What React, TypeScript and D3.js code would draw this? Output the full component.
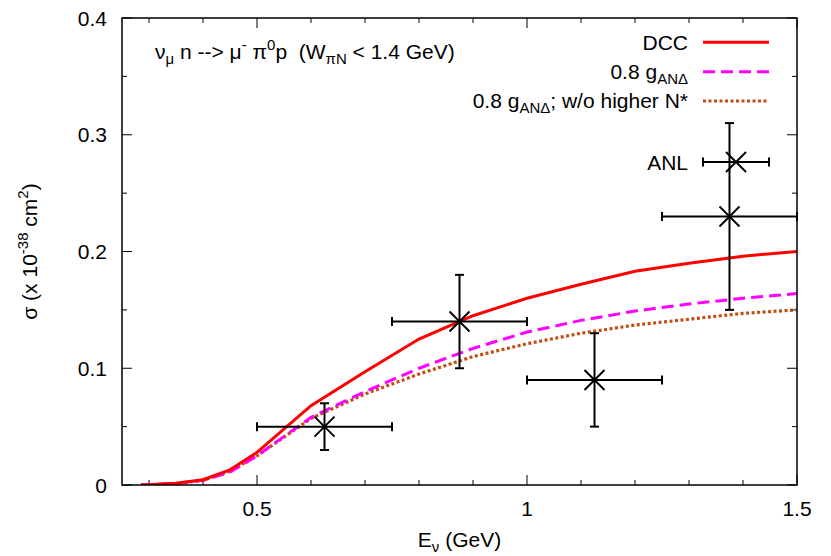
import React from "react";
import * as d3 from "d3";

const energies = [0.285, 0.3, 0.35, 0.4, 0.45, 0.5, 0.6, 0.7, 0.8, 0.9, 1.0, 1.1, 1.2, 1.3, 1.4, 1.5];
const dcc = [0, 0.0003, 0.0015, 0.0045, 0.013, 0.028, 0.068, 0.097, 0.125, 0.145, 0.16, 0.172, 0.183, 0.19, 0.196, 0.2];
const gAND08 = [0, 0.0003, 0.0013, 0.004, 0.011, 0.025, 0.058, 0.08, 0.1, 0.117, 0.131, 0.141, 0.149, 0.155, 0.16, 0.164];
const gAND08NoN = [0, 0.0003, 0.0013, 0.004, 0.012, 0.025, 0.057, 0.078, 0.095, 0.11, 0.121, 0.13, 0.137, 0.142, 0.147, 0.15];

const anlE = [0.625, 0.875, 1.125, 1.375];
const anlSigma = [0.05, 0.14, 0.09, 0.23];
const anlELow = [0.5, 0.75, 1.0, 1.25];
const anlEHigh = [0.75, 1.0, 1.25, 1.5];
const anlSigmaLow = [0.03, 0.1, 0.05, 0.15];
const anlSigmaHigh = [0.07, 0.18, 0.13, 0.31];

const xMajorTicks = [0.5, 1, 1.5];
const xTickLabels = ["0.5", "1", "1.5"];
const xMinorTicks = [0.3, 0.4, 0.6, 0.7, 0.8, 0.9, 1.1, 1.2, 1.3, 1.4];
const yMajorTicks = [0, 0.1, 0.2, 0.3, 0.4];
const yTickLabels = ["0", "0.1", "0.2", "0.3", "0.4"];
const yMinorTicks = [0.05, 0.15, 0.25, 0.35];

const W = 831;
const H = 556;
const L = 122, R = 797, T = 18, B = 485;
const FONT = "'Liberation Sans', Arial, Helvetica, sans-serif";
const FS = 21;
const SUB = 15;
const ORANGE = "#c24e12";

export default function App() {
  const x = d3.scaleLinear().domain([0.25, 1.5]).range([L, R]);
  const y = d3.scaleLinear().domain([0, 0.4]).range([B, T]);
  const line = (vals: number[]) =>
    d3.line<number>().x((_, i) => x(energies[i])).y((v) => y(v))(vals) || "";

  const cross = (cx: number, cy: number, s: number, key: string) => (
    <g key={key} stroke="#000" strokeWidth={2}>
      <line x1={cx - s} y1={cy - s} x2={cx + s} y2={cy + s} />
      <line x1={cx - s} y1={cy + s} x2={cx + s} y2={cy - s} />
    </g>
  );
  const cap = 4.5;

  const legendX1 = 703, legendX2 = 769, legendTextX = 688;

  return (
    <svg width={W} height={H} style={{ position: "absolute", left: 0, top: 0, background: "#fff" }} fontFamily={FONT}>
      <rect x={0} y={0} width={W} height={H} fill="#fff" />
      <defs>
        <clipPath id="plotclip">
          <rect x={L} y={T} width={R - L} height={B - T} />
        </clipPath>
      </defs>

      {/* ticks */}
      <g stroke="#000" strokeWidth={1}>
        {xMajorTicks.map((t) => (
          <g key={"xM" + t}>
            <line x1={x(t)} x2={x(t)} y1={B} y2={B - 10} />
            <line x1={x(t)} x2={x(t)} y1={T} y2={T + 10} />
          </g>
        ))}
        {xMinorTicks.map((t) => (
          <g key={"xm" + t}>
            <line x1={x(t)} x2={x(t)} y1={B} y2={B - 5} />
            <line x1={x(t)} x2={x(t)} y1={T} y2={T + 5} />
          </g>
        ))}
        {yMajorTicks.map((t) => (
          <g key={"yM" + t}>
            <line x1={L} x2={L + 10} y1={y(t)} y2={y(t)} />
            <line x1={R} x2={R - 10} y1={y(t)} y2={y(t)} />
          </g>
        ))}
        {yMinorTicks.map((t) => (
          <g key={"ym" + t}>
            <line x1={L} x2={L + 5} y1={y(t)} y2={y(t)} />
            <line x1={R} x2={R - 5} y1={y(t)} y2={y(t)} />
          </g>
        ))}
      </g>

      {/* tick labels */}
      <g fontSize={FS} fill="#000">
        {xMajorTicks.map((t, i) => (
          <text key={"xl" + t} x={x(t)} y={516} textAnchor="middle">{xTickLabels[i]}</text>
        ))}
        {yMajorTicks.map((t, i) => (
          <text key={"yl" + t} x={107} y={y(t) + 7.5} textAnchor="end">{yTickLabels[i]}</text>
        ))}
      </g>

      {/* axis labels */}
      <text x={(L + R) / 2} y={547} fontSize={FS} textAnchor="middle">
        E<tspan fontSize={SUB} dy={5}>ν</tspan><tspan dy={-5}> (GeV)</tspan>
      </text>
      <text transform={`translate(37,${(T + B) / 2}) rotate(-90)`} fontSize={FS} textAnchor="middle">
        σ (x 10<tspan fontSize={SUB} dy={-9}>-38</tspan><tspan dy={9}> cm</tspan><tspan fontSize={SUB} dy={-9}>2</tspan><tspan dy={9}>)</tspan>
      </text>

      {/* title */}
      <text x={155} y={59} fontSize={FS}>
        ν<tspan fontSize={SUB} dy={5}>μ</tspan>
        <tspan dy={-5}> n --&gt; μ</tspan>
        <tspan fontSize={SUB} dy={-9}>-</tspan>
        <tspan dy={9}> π</tspan>
        <tspan fontSize={SUB} dy={-9}>0</tspan>
        <tspan dy={9}>{"p\u00a0 (W"}</tspan>
        <tspan fontSize={SUB} dy={5}>πN</tspan>
        <tspan dy={-5}> &lt; 1.4 GeV)</tspan>
      </text>

      {/* curves */}
      <g clipPath="url(#plotclip)" fill="none">
        <path d={line(gAND08NoN)} stroke={ORANGE} strokeWidth={3.2} strokeDasharray="3,2.5" />
        <path d={line(gAND08)} stroke="#ff00ff" strokeWidth={3} strokeDasharray="12,6" />
        <path d={line(dcc)} stroke="#ff0000" strokeWidth={3} />
      </g>

      {/* data points */}
      <g stroke="#000" strokeWidth={2}>
        {anlE.map((e, i) => (
          <g key={"pt" + i}>
            <line x1={x(anlELow[i])} x2={x(anlEHigh[i])} y1={y(anlSigma[i])} y2={y(anlSigma[i])} />
            <line x1={x(anlELow[i])} x2={x(anlELow[i])} y1={y(anlSigma[i]) - cap} y2={y(anlSigma[i]) + cap} />
            <line x1={x(anlEHigh[i])} x2={x(anlEHigh[i])} y1={y(anlSigma[i]) - cap} y2={y(anlSigma[i]) + cap} />
            <line x1={x(e)} x2={x(e)} y1={y(anlSigmaLow[i])} y2={y(anlSigmaHigh[i])} />
            <line x1={x(e) - cap} x2={x(e) + cap} y1={y(anlSigmaLow[i])} y2={y(anlSigmaLow[i])} />
            <line x1={x(e) - cap} x2={x(e) + cap} y1={y(anlSigmaHigh[i])} y2={y(anlSigmaHigh[i])} />
            {cross(x(e), y(anlSigma[i]), 10, "c" + i)}
          </g>
        ))}
      </g>

      {/* legend */}
      <g fontSize={FS}>
        <text x={legendTextX} y={50} textAnchor="end">DCC</text>
        <line x1={legendX1} x2={legendX2} y1={42.3} y2={42.3} stroke="#ff0000" strokeWidth={3} />
        <text x={legendTextX} y={79} textAnchor="end">
          0.8 g<tspan fontSize={SUB} dy={5}>ANΔ</tspan>
        </text>
        <line x1={legendX1} x2={legendX2} y1={71.7} y2={71.7} stroke="#ff00ff" strokeWidth={3} strokeDasharray="12,6" />
        <text x={legendTextX} y={108} textAnchor="end">
          0.8 g<tspan fontSize={SUB} dy={5}>ANΔ</tspan><tspan dy={-5}>; w/o higher N*</tspan>
        </text>
        <line x1={legendX1} x2={legendX2} y1={101} y2={101} stroke={ORANGE} strokeWidth={3.2} strokeDasharray="3,2.5" />
        <text x={legendTextX} y={169.5} textAnchor="end">ANL</text>
        <g stroke="#000" strokeWidth={2}>
          <line x1={legendX1} x2={legendX2} y1={162} y2={162} />
          <line x1={legendX1} x2={legendX1} y1={162 - cap} y2={162 + cap} />
          <line x1={legendX2} x2={legendX2} y1={162 - cap} y2={162 + cap} />
          {cross((legendX1 + legendX2) / 2, 162, 10, "lc")}
        </g>
      </g>

      {/* frame */}
      <rect x={L} y={T} width={R - L} height={B - T} fill="none" stroke="#000" strokeWidth={1.5} />
    </svg>
  );
}
